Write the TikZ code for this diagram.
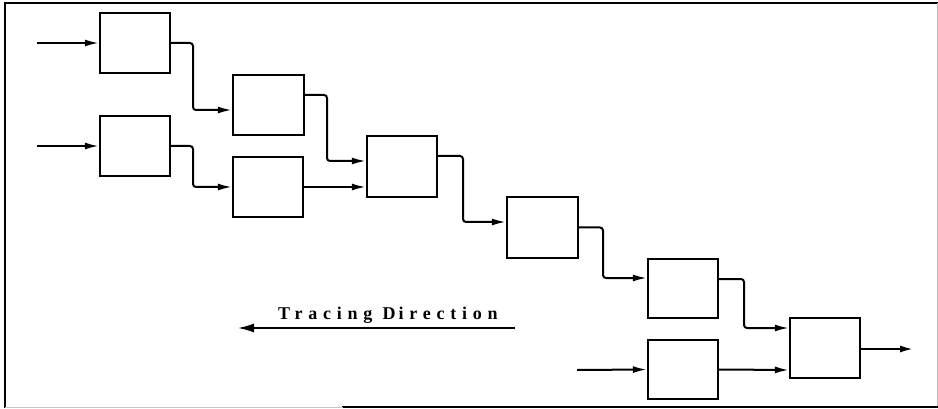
\documentclass[tikz,border=0pt]{standalone}
\usepackage{fontspec}
\setmainfont{Liberation Serif}
\usetikzlibrary{arrows.meta}
\begin{document}
\begin{tikzpicture}[x=1pt,y=-1pt,
  blk/.style={draw,line width=2.3pt,minimum width=70pt,minimum height=60pt,inner sep=0pt},
  conn/.style={line width=2pt,rounded corners=3pt,-{Latex[length=14pt,width=7pt]}},
  frameline/.style={line width=1.8pt,line cap=rect}
]
\useasboundingbox (0,0) rectangle (938,409);

% outer frame
\draw[frameline] (5,407) -- (5,3) -- (937,3);
\draw[gray!55,line width=0.8pt] (937,3) -- (937,407);
\draw[frameline] (937,407) -- (343,407);
\draw[gray!45,line width=0.8pt] (343,407) -- (5,407);

% blocks
\node[blk] (A1) at (135,43) {};
\node[blk] (A2) at (135,146) {};
\node[blk,minimum width=71pt] (B1) at (268.5,105) {};
\node[blk] (B2) at (268,187) {};
\node[blk,minimum height=61pt] (C) at (402,166.5) {};
\node[blk,minimum width=71pt,minimum height=61pt] (D) at (542.5,227.5) {};
\node[blk,minimum height=59pt] (E) at (683,288.5) {};
\node[blk] (F) at (825,348) {};
\node[blk,minimum height=59pt] (G) at (683,369.5) {};

% free ends
\coordinate (inA1) at (37,43);
\coordinate (inA2) at (37,146);
\coordinate (inG) at (577,370);
\coordinate (outF) at (914,349);

% inputs and output
\draw[conn] (inA1) -- (A1.west);
\draw[conn] (inA2) -- (A2.west);
\draw[conn] (inG) -- (G.west);
\draw[conn,line width=2.4pt] ([yshift=-1pt]F.east) -- (outF);

% chain of blocks
\draw[conn] (A1.east) -- (193,43) |- ([yshift=-5pt]B1.west);
\draw[conn] (A2.east) -- (193,146) |- (B2.west);
\draw[conn] ([yshift=10pt]B1.east) -- (327,95) |- ([yshift=5.5pt]C.west);
\draw[conn] (B2.east) -- ([yshift=-20.5pt]C.west);
\draw[conn] ([yshift=10.5pt]C.east) -- (463,156) |- ([yshift=5.5pt]D.west);
\draw[conn] (D.east) -- (603,227.5) |- ([yshift=10.5pt]E.west);
\draw[conn] ([yshift=9.5pt]E.east) -- (744,279) |- ([yshift=20pt]F.west);
\draw[conn] (G.east) -- ([yshift=-22pt]F.west);

% tracing direction
\coordinate (tdS) at (515,328);
\coordinate (tdE) at (237,328);
\draw[line width=2.6pt,-{Latex[length=17pt,width=9pt]}] (tdS) -- (tdE);
\node[anchor=base west,inner sep=0pt,font=\fontsize{18}{20}\bfseries\selectfont\addfontfeature{LetterSpace=32}] (td) at (278,319) {Tracing D\kern3pt irection};
\end{tikzpicture}
\end{document}
